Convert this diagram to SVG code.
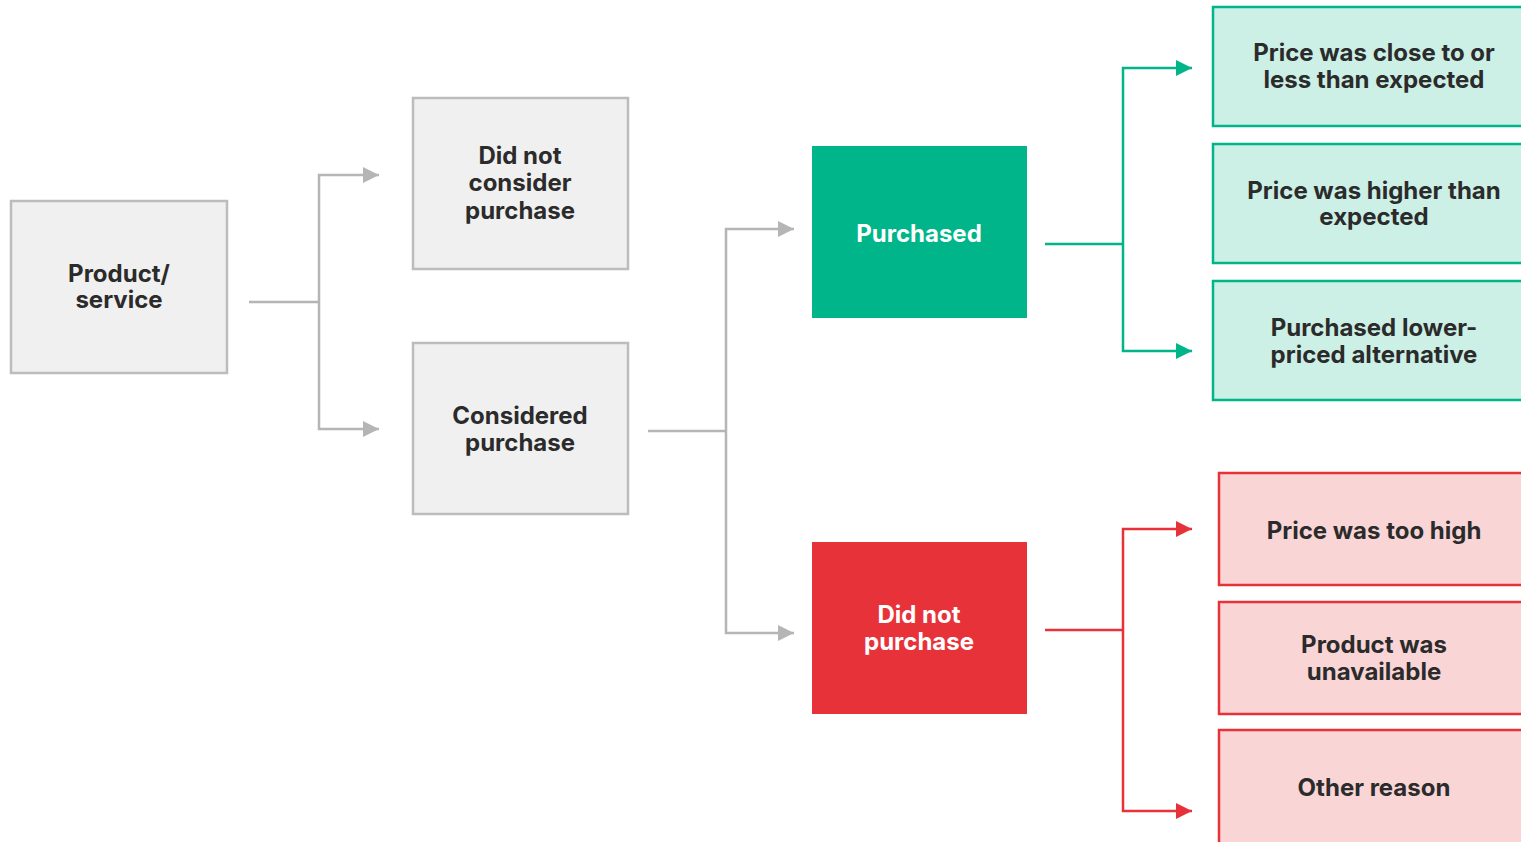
<svg xmlns="http://www.w3.org/2000/svg" width="1521" height="842" viewBox="0 0 1521 842">
<style>
.t{font-family:Inter,"Liberation Sans",sans-serif;font-weight:700;font-size:24px;text-anchor:middle;fill:#2b2b2b}
.w{fill:#ffffff}
.gray{fill:#f0f0f0;stroke:#bcbcbc;stroke-width:2.5}
.lg{fill:#ccefe6;stroke:#00b589;stroke-width:2.5}
.lr{fill:#f9d5d6;stroke:#e8323a;stroke-width:2.5}
.cg{fill:none;stroke:#b5b5b5;stroke-width:2.5}
.cgr{fill:none;stroke:#00b589;stroke-width:2.5}
.cr{fill:none;stroke:#e8323a;stroke-width:2.5}
</style>
<defs>
<marker id="ag" viewBox="0 0 16 16" refX="16" refY="8" markerWidth="16" markerHeight="16" markerUnits="userSpaceOnUse" orient="auto"><path d="M0,0 L16,8 L0,16 Z" fill="#b5b5b5"/></marker>
<marker id="agr" viewBox="0 0 16 16" refX="16" refY="8" markerWidth="16" markerHeight="16" markerUnits="userSpaceOnUse" orient="auto"><path d="M0,0 L16,8 L0,16 Z" fill="#00b589"/></marker>
<marker id="ar" viewBox="0 0 16 16" refX="16" refY="8" markerWidth="16" markerHeight="16" markerUnits="userSpaceOnUse" orient="auto"><path d="M0,0 L16,8 L0,16 Z" fill="#e8323a"/></marker>
</defs>
<g id="connectors">
<path class="cg" d="M249,302 H319"/>
<path class="cg" d="M319,302 V175 H379" marker-end="url(#ag)"/>
<path class="cg" d="M319,302 V429 H379" marker-end="url(#ag)"/>
<path class="cg" d="M648,431 H726"/>
<path class="cg" d="M726,431 V229 H794" marker-end="url(#ag)"/>
<path class="cg" d="M726,431 V633 H794" marker-end="url(#ag)"/>
<path class="cgr" d="M1045,244 H1123"/>
<path class="cgr" d="M1123,244 V68 H1192" marker-end="url(#agr)"/>
<path class="cgr" d="M1123,244 V351 H1192" marker-end="url(#agr)"/>
<path class="cr" d="M1045,630 H1123"/>
<path class="cr" d="M1123,630 V529 H1192" marker-end="url(#ar)"/>
<path class="cr" d="M1123,630 V811 H1192" marker-end="url(#ar)"/>
</g>
<g id="product">
<rect class="gray" x="11" y="201" width="216" height="172"/>
<text class="t" x="119" y="282">Product/</text>
<text class="t" x="119" y="308">service</text>
</g>
<g id="not-consider">
<rect class="gray" x="413" y="98" width="215" height="171"/>
<text class="t" x="520" y="164">Did not</text>
<text class="t" x="520" y="191">consider</text>
<text class="t" x="520" y="219">purchase</text>
</g>
<g id="considered">
<rect class="gray" x="413" y="343" width="215" height="171"/>
<text class="t" x="520" y="424">Considered</text>
<text class="t" x="520" y="451">purchase</text>
</g>
<g id="purchased">
<rect x="812" y="146" width="215" height="172" fill="#00b589"/>
<text class="t w" x="919" y="242">Purchased</text>
</g>
<g id="not-purchased">
<rect x="812" y="542" width="215" height="172" fill="#e8323a"/>
<text class="t w" x="919" y="623">Did not</text>
<text class="t w" x="919" y="650">purchase</text>
</g>
<g id="g1">
<rect class="lg" x="1213" y="7" width="330" height="119"/>
<text class="t" x="1374" y="61">Price was close to or</text>
<text class="t" x="1374" y="88">less than expected</text>
</g>
<g id="g2">
<rect class="lg" x="1213" y="144" width="330" height="119"/>
<text class="t" x="1374" y="199">Price was higher than</text>
<text class="t" x="1374" y="225">expected</text>
</g>
<g id="g3">
<rect class="lg" x="1213" y="281" width="330" height="119"/>
<text class="t" x="1374" y="336">Purchased lower-</text>
<text class="t" x="1374" y="363">priced alternative</text>
</g>
<g id="r1">
<rect class="lr" x="1219" y="473" width="330" height="112"/>
<text class="t" x="1374" y="539">Price was too high</text>
</g>
<g id="r2">
<rect class="lr" x="1219" y="602" width="330" height="112"/>
<text class="t" x="1374" y="653">Product was</text>
<text class="t" x="1374" y="680">unavailable</text>
</g>
<g id="r3">
<rect class="lr" x="1219" y="730" width="330" height="130"/>
<text class="t" x="1374" y="796">Other reason</text>
</g>
</svg>
